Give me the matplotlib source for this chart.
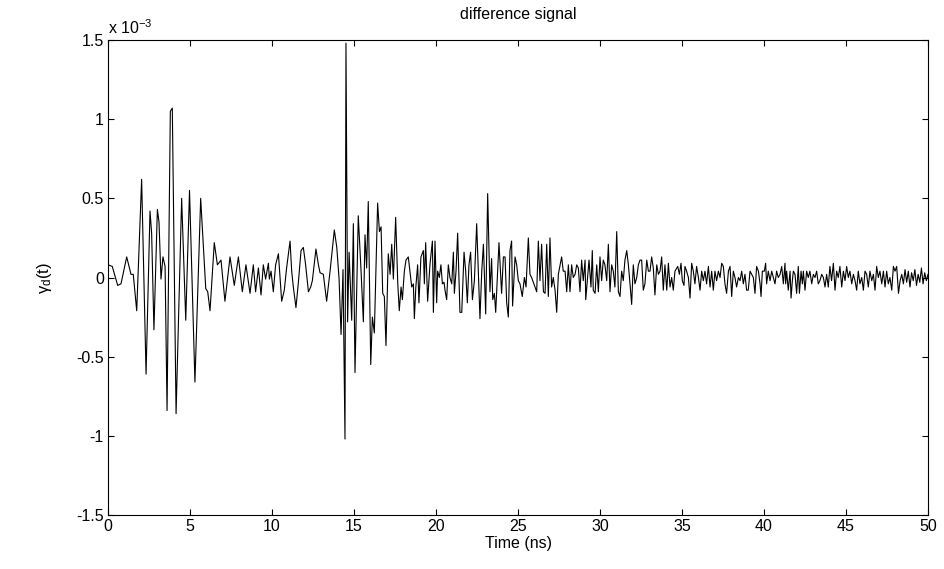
import matplotlib
matplotlib.use('Agg')
import matplotlib.pyplot as plt
import numpy as np

plt.rcParams['font.family'] = ['Liberation Sans', 'DejaVu Sans']
plt.rcParams['axes.unicode_minus'] = False
plt.rcParams['mathtext.fontset'] = 'custom'
plt.rcParams['mathtext.rm'] = 'Liberation Sans'
plt.rcParams['mathtext.it'] = 'Liberation Sans:italic'

# values, amplitude in units of 1e-3
t_early = [0.0, 0.26, 0.59, 0.79, 1.14, 1.40, 1.54, 1.75, 2.05, 2.32, 2.56, 2.66, 2.80, 3.01, 3.11,
           3.23, 3.35, 3.48, 3.60, 3.80, 3.92, 4.15, 4.49, 4.74, 4.97, 5.30, 5.65, 5.96, 6.08, 6.22,
           6.48, 6.67, 6.89, 7.13, 7.44, 7.70, 7.95, 8.19, 8.41, 8.66, 8.86, 9.00, 9.17, 9.33, 9.47,
           9.61, 9.78, 9.84, 9.94]
v_early = [0.08, 0.07, -0.05, -0.04, 0.13, 0.02, 0.02, -0.21, 0.62, -0.61, 0.42, 0.28, -0.33, 0.43, 0.35,
           -0.01, 0.13, 0.07, -0.84, 1.05, 1.07, -0.86, 0.50, -0.27, 0.55, -0.66, 0.50, -0.07, -0.09, -0.21,
           0.22, 0.08, 0.11, -0.15, 0.13, -0.05, 0.13, -0.09, 0.08, -0.10, 0.08, -0.09, 0.06, -0.11, 0.08,
           -0.01, 0.09, -0.01, 0.04]

t_burst = [10.08, 10.22, 10.39, 10.59, 10.75, 10.89, 11.10, 11.20, 11.30, 11.46, 11.60, 11.77, 11.91, 12.05,
           12.22, 12.36, 12.46, 12.68, 12.83, 12.93, 13.13, 13.33, 13.54, 13.80, 13.95, 14.09, 14.21, 14.33,
           14.45, 14.51, 14.61, 14.70, 14.86, 14.96, 15.06, 15.26, 15.43, 15.57, 15.67, 15.77, 15.87, 16.02,
           16.12, 16.24, 16.44, 16.55, 16.65, 16.75, 16.85, 16.95, 17.09, 17.20, 17.30, 17.40, 17.54, 17.67,
           17.76, 17.87, 17.95, 18.07, 18.17, 18.31, 18.52, 18.62, 18.68, 18.77, 18.88, 18.96, 19.08, 19.23,
           19.29, 19.37]
v_burst = [-0.09, 0.08, 0.15, -0.15, -0.08, 0.06, 0.23, 0.04, -0.06, -0.19, -0.04, 0.17, 0.19, 0.08,
           -0.09, -0.06, -0.02, 0.18, 0.08, 0.03, 0.02, -0.15, 0.04, 0.30, 0.19, -0.01, -0.36, 0.05,
           -1.02, 1.48, -0.28, 0.16, -0.27, 0.34, -0.60, 0.39, 0.04, -0.28, 0.27, 0.06, 0.48, -0.55,
           -0.25, -0.35, 0.47, 0.29, 0.32, -0.10, -0.12, -0.43, 0.15, 0.02, 0.21, -0.01, 0.38, -0.04,
           -0.21, -0.06, -0.14, 0.04, 0.11, 0.13, -0.06, -0.04, -0.26, -0.06, 0.08, -0.16, 0.13, 0.17,
           -0.04, 0.22]

t_mid = [19.49, 19.63, 19.78, 19.84, 19.94, 20.04, 20.10, 20.20, 20.30, 20.39, 20.49, 20.55, 20.65, 20.75,
         20.85, 20.96, 21.06, 21.12, 21.22, 21.32, 21.46, 21.57, 21.71, 21.81, 21.91, 22.01, 22.11, 22.22,
         22.34, 22.48, 22.58, 22.68, 22.79, 22.89, 23.03, 23.15, 23.29, 23.39, 23.46, 23.56, 23.64, 23.84,
         24.00, 24.11, 24.21, 24.31, 24.41, 24.51, 24.61, 24.67, 24.82, 24.92, 25.02, 25.12, 25.26, 25.39,
         25.49, 25.63, 25.73, 25.83, 26.04, 26.14, 26.24, 26.34, 26.44, 26.55, 26.65, 26.75, 26.85, 26.95,
         27.05, 27.15, 27.26, 27.36, 27.46, 27.66, 27.76, 27.87, 27.97, 28.07, 28.17, 28.27, 28.37, 28.48,
         28.58, 28.68, 28.78, 28.88, 28.98, 29.09, 29.13, 29.33, 29.45, 29.53, 29.59, 29.70, 29.80, 29.90,
         30.00, 30.10, 30.20, 30.30, 30.41, 30.51, 30.61, 30.71, 30.81, 30.91, 31.02, 31.12, 31.22, 31.32,
         31.42, 31.52, 31.63, 31.73, 31.83, 31.93, 32.03, 32.13, 32.24, 32.34, 32.44, 32.54, 32.64, 32.74,
         32.85, 32.95, 33.05, 33.15, 33.25, 33.35, 33.46, 33.56, 33.66, 33.76, 33.86, 33.96, 34.07]
v_mid = [-0.15, 0.08, 0.23, -0.22, 0.23, -0.16, 0.04, 0.00, 0.08, -0.04, -0.03, -0.08, -0.14, 0.08,
         0.00, -0.04, 0.16, -0.10, 0.04, 0.28, -0.22, -0.22, 0.16, 0.04, -0.16, 0.08, 0.16, -0.14,
         -0.02, 0.34, 0.04, -0.26, 0.04, 0.21, -0.23, 0.53, -0.09, 0.12, -0.14, -0.10, -0.22, 0.22,
         -0.10, 0.13, 0.13, -0.16, -0.25, 0.17, 0.23, -0.18, 0.13, 0.08, -0.02, -0.04, -0.12, 0.00,
         -0.06, 0.25, 0.02, 0.00, -0.06, -0.09, 0.23, -0.02, 0.21, -0.09, -0.10, 0.21, -0.12, 0.25,
         -0.06, 0.00, -0.08, -0.22, 0.02, 0.13, 0.04, 0.04, -0.09, 0.08, -0.09, 0.08, 0.00, 0.02,
         0.08, 0.06, -0.09, 0.11, -0.02, 0.11, -0.14, 0.11, -0.06, 0.17, -0.08, -0.10, 0.08, -0.09,
         0.13, -0.02, 0.11, 0.08, -0.02, 0.21, -0.09, 0.08, 0.04, -0.06, 0.29, -0.09, -0.12, 0.04,
         -0.02, 0.11, 0.17, 0.08, -0.04, -0.17, 0.08, -0.04, 0.00, 0.08, 0.11, 0.11, -0.08, -0.04,
         0.11, 0.04, 0.04, 0.13, 0.06, -0.11, 0.08, 0.02, 0.04, 0.13, -0.08, 0.08, -0.08]

t_tail = [34.17, 34.27, 34.37, 34.47, 34.57, 34.74, 34.84, 34.94, 35.02, 35.12, 35.18, 35.28, 35.39, 35.49,
          35.59, 35.69, 35.79, 35.89, 36.00, 36.10, 36.20, 36.30, 36.40, 36.50, 36.61, 36.71, 36.81, 36.91,
          37.01, 37.11, 37.22, 37.32, 37.42, 37.52, 37.62, 37.72, 37.83, 37.93, 38.03, 38.13, 38.23, 38.33,
          38.44, 38.54, 38.64, 38.74, 38.84, 38.94, 39.04, 39.15, 39.25, 39.35, 39.45, 39.55, 39.66, 39.76,
          39.82, 39.90, 40.02, 40.10, 40.16, 40.26, 40.37, 40.47, 40.57, 40.67, 40.77, 40.87, 40.98, 41.08,
          41.18, 41.28, 41.32, 41.38, 41.48, 41.59, 41.65, 41.73, 41.79, 41.89, 41.99, 42.09, 42.16, 42.26,
          42.34, 42.40, 42.50, 42.60, 42.70, 42.80, 42.91, 43.01, 43.11, 43.21, 43.31, 43.41, 43.52, 43.62,
          43.72, 43.82, 43.92, 44.02, 44.12, 44.23, 44.33, 44.43, 44.53, 44.63, 44.74, 44.84, 44.94, 45.04,
          45.14, 45.24, 45.35, 45.45, 45.55, 45.65, 45.75, 45.85, 45.96, 46.06, 46.16, 46.26, 46.36, 46.46,
          46.57, 46.67, 46.77, 46.87, 46.97, 47.07, 47.18, 47.28, 47.38, 47.48, 47.58, 47.68, 47.79, 47.89,
          47.99, 48.09, 48.20, 48.30, 48.40, 48.50, 48.60, 48.70, 48.80, 48.90, 49.00, 49.10, 49.20, 49.30,
          49.40, 49.50, 49.60, 49.70, 49.80, 49.90, 50.00]
v_tail = [0.09, -0.06, 0.00, -0.08, 0.04, 0.07, 0.02, 0.09, -0.02, -0.05, 0.07, 0.04, 0.00, -0.13,
          0.09, 0.04, -0.04, 0.07, 0.00, -0.08, 0.04, -0.02, 0.04, -0.04, 0.07, -0.06, 0.04, -0.08,
          0.04, -0.02, 0.04, 0.00, 0.09, 0.07, -0.04, -0.10, 0.04, 0.07, -0.12, 0.04, 0.00, -0.06,
          0.00, -0.02, 0.04, -0.04, 0.02, -0.08, -0.08, 0.04, 0.02, 0.00, -0.10, 0.07, 0.04, -0.04,
          -0.12, 0.04, 0.04, 0.09, -0.04, 0.04, -0.02, 0.04, 0.00, -0.04, 0.04, 0.00, 0.02, 0.07,
          -0.04, 0.09, -0.04, 0.04, -0.08, 0.04, -0.13, -0.02, 0.04, 0.02, -0.10, 0.07, -0.10, 0.04,
          -0.04, 0.04, -0.08, 0.04, 0.00, 0.04, -0.04, 0.02, 0.00, 0.04, -0.04, -0.02, 0.02, 0.00,
          -0.06, 0.02, -0.06, 0.07, -0.02, 0.09, -0.08, 0.04, 0.00, 0.07, -0.06, 0.04, -0.02, 0.07,
          0.00, 0.04, -0.04, 0.02, -0.02, -0.08, 0.04, -0.04, 0.00, -0.08, 0.04, 0.02, -0.06, 0.04,
          -0.02, 0.02, -0.08, 0.07, 0.00, 0.04, -0.04, 0.04, -0.06, 0.04, -0.04, 0.00, -0.08, 0.07,
          0.04, 0.07, -0.10, -0.02, 0.02, -0.04, 0.05, -0.03, 0.04, -0.06, 0.03, -0.02, 0.05, -0.05,
          0.02, -0.03, 0.06, -0.04, 0.03, -0.02, 0.02]

y_ticks = [-1.5, -1, -0.5, 0, 0.5, 1, 1.5]
x_ticks = list(range(0, 55, 5))

t = np.concatenate([t_early, t_burst, t_mid, t_tail])
v = np.concatenate([v_early, v_burst, v_mid, v_tail])

fig = plt.figure(figsize=(9.45, 5.69), dpi=100)
ax = fig.add_axes([0.1143, 0.0949, 0.8677, 0.8348])
ax.plot(t, v, color='black', linewidth=0.8)

ax.set_xlim(0, 50)
ax.set_ylim(-1.5, 1.5)
ax.set_xticks(x_ticks)
ax.set_yticks(y_ticks)
ax.set_yticklabels(['%g' % y for y in y_ticks])
ax.tick_params(direction='in', length=4, width=0.8, top=True, right=True, labelsize=11.5, pad=3)
for s in ax.spines.values():
    s.set_linewidth(0.8)

ax.set_title('difference signal', fontsize=11.5, pad=15)
ax.set_xlabel('Time (ns)', fontsize=11.5, labelpad=1)
ax.set_ylabel('γ$_{\\rm d}$(t)', fontsize=12, labelpad=16)
ax.text(0.0, 1.006, r'x 10$^{-3}$', transform=ax.transAxes, ha='left', va='bottom', fontsize=11.5)

fig.savefig('out.png', dpi=100)
